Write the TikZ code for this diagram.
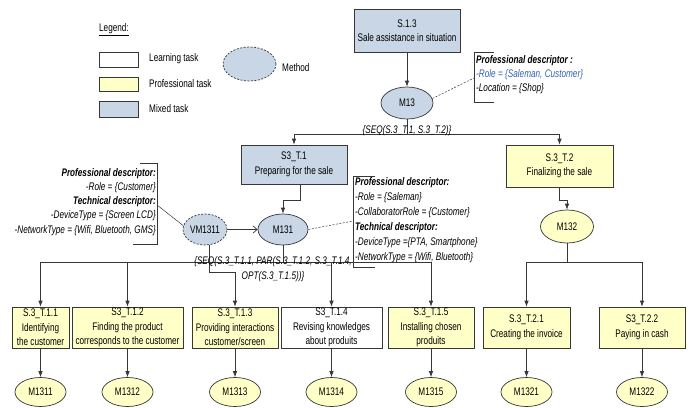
\documentclass[tikz,border=0pt]{standalone}
\usepackage{fontspec}
\setmainfont{Liberation Sans}[FakeStretch=0.745]
\usetikzlibrary{arrows.meta,shapes.geometric,calc}
\definecolor{mixblue}{RGB}{200,214,230}
\definecolor{proyel}{RGB}{255,255,200}
\definecolor{edgec}{RGB}{55,55,55}
\definecolor{roleblue}{RGB}{50,100,175}
\begin{document}
\begin{tikzpicture}[x=1pt,y=-1pt,
  font=\fontsize{11}{14.5}\selectfont,
  box/.style={draw=edgec, line width=0.7pt, rectangle, align=center, inner sep=0pt, fill=white},
  mixbox/.style={box, fill=mixblue},
  probox/.style={box, fill=proyel},
  meth/.style={draw=edgec, line width=0.7pt, ellipse, inner sep=0pt, minimum width=51pt, minimum height=29pt},
  dsh/.style={dash pattern=on 2pt off 1.5pt},
  arr/.style={draw=edgec, line width=0.7pt, -{Latex[length=6pt,width=4.5pt]}},
  conn/.style={draw=edgec, line width=0.7pt},
  thinl/.style={draw=edgec, line width=0.5pt},
  lbl/.style={inner sep=0pt},
  desc/.style={inner sep=0pt, font=\itshape\fontsize{11}{14.5}\selectfont}
]
\useasboundingbox (0,0) rectangle (690,407);
\fill[white] (0,0) rectangle (690,407);

% Legend
\node[lbl] (leg) at (114,30) {\underline{Legend:}};
\node[box, minimum width=39pt, minimum height=15pt] (lb1) at (118.5,59.5) {};
\node[probox, minimum width=39pt, minimum height=14pt] (lb2) at (118.5,84) {};
\node[mixbox, minimum width=39pt, minimum height=16pt] (lb3) at (118.5,109) {};
\node[lbl, anchor=west] (ll1) at (149,59) {Learning task};
\node[lbl, anchor=west] (ll2) at (149,84) {Professional task};
\node[lbl, anchor=west] (ll3) at (149,109) {Mixed task};
\node[meth, dsh, fill=mixblue, minimum width=53pt, minimum height=34pt] (lm) at (249.5,64) {};
\node[lbl, anchor=west] (lml) at (282,68) {Method};

% Top
\node[mixbox, minimum width=106pt, minimum height=43pt] (S13) at (407,30.5) {S.1.3\\Sale assistance in situation};
\node[meth, fill=mixblue, minimum width=52pt, minimum height=32pt] (M13) at (407,103) {M13};
\draw[arr] (S13) -- (M13);
\draw[thinl] (494,52) -- (474,52) -- (474,102) -- (494,102);
\node[desc, anchor=north west, align=left, font=\itshape\fontsize{11}{14}\selectfont] (desc1) at (476,55)
  {\textbf{Professional descriptor :}\\\textcolor{roleblue}{-Role = \{Saleman, Customer\}}\\-Location = \{Shop\}};
\coordinate (d1) at (474,78);
\draw[thinl, dsh] (M13.10) -- (d1);

\node[mixbox, minimum width=106pt, minimum height=39pt] (S3T1) at (294,164.5) {S3\_T.1\\Preparing for the sale};
\node[probox, minimum width=107pt, minimum height=42pt] (S3T2) at (559.5,166) {S.3\_T.2\\Finalizing the sale};
\coordinate (b1) at (407,134);
\draw[conn] (M13) -- (b1);
\draw[arr] (b1) -| (S3T1);
\draw[arr] (b1) -| (S3T2);
\node[desc] (seq1) at (407,131) {\{SEQ(S.3\_T.1, S.3\_T.2)\}};

% Methods level 2
\node[meth, fill=mixblue, minimum width=50pt, minimum height=31pt] (M131) at (283,229.5) {M131};
\node[meth, dsh, fill=mixblue, minimum width=44pt, minimum height=31pt] (VM1311) at (205,229.5) {VM1311};
\node[meth, fill=proyel, minimum width=53pt, minimum height=33pt] (M132) at (567,226.5) {M132};
\draw[arr] ($(S3T1.south)+(6,0)$) -- ++(0,16) -| (M131.north);
\draw[arr] (S3T2.south) -- ++(0,13) -| (M132.north);
\draw[conn, -{Straight Barb[length=4pt,width=7pt]}] (VM1311) -- (M131);

% Left descriptor
\draw[thinl] (140,163) -- (157,163) -- (157,244) -- (133,244);
\node[desc, anchor=north east, align=right, font=\itshape\fontsize{11}{14.25}\selectfont] (desc2) at (156,168)
  {\textbf{Professional descriptor:}\\-Role = \{Customer\}\\\textbf{Technical descriptor:}\\-DeviceType = \{Screen LCD\}\\-NetworkType = \{Wifi, Bluetooth, GMS\}};
\coordinate (d2) at (157,205);
\draw[thinl] (d2) -- (VM1311.170);

% Right descriptor
\draw[thinl] (375,176) -- (353,176) -- (353,267) -- (375,267);
\node[desc, anchor=north west, align=left, font=\itshape\fontsize{11}{15}\selectfont] (desc3) at (355,177)
  {\textbf{Professional descriptor:}\\-Role = \{Saleman\}\\-CollaboratorRole = \{Customer\}\\\textbf{Technical descriptor:}\\-DeviceType =\{PTA, Smartphone\}\\-NetworkType = \{Wifi, Bluetooth\}};
\coordinate (d3) at (353,221);
\draw[thinl, dsh] (M131.east) -- (d3);

% Row of tasks
\node[probox, minimum width=57pt, minimum height=41pt] (T11) at (40.5,327.5) {S.3\_T.1.1\\Identifying\\the customer};
\node[probox, minimum width=111pt, minimum height=41pt] (T12) at (127.5,327.5) {S3\_T.1.2\\Finding the product\\corresponds to the customer};
\node[probox, minimum width=86pt, minimum height=41pt] (T13) at (235,327.5) {S.3\_T.1.3\\Providing interactions\\customer/screen};
\node[box, minimum width=101pt, minimum height=41pt] (T14) at (331.5,327.5) {S3\_T.1.4\\Revising knowledges\\about produits};
\node[probox, minimum width=86pt, minimum height=41pt] (T15) at (431,327.5) {S.3\_T.1.5\\Installing chosen\\produits};
\node[probox, minimum width=87pt, minimum height=41pt] (T21) at (526.5,327.5) {S.3\_T.2.1\\Creating the invoice};
\node[probox, minimum width=86pt, minimum height=41pt] (T22) at (642,327.5) {S3\_T.2.2\\Paying in cash};

% Bus from M131
\coordinate (b2) at (283,262);
\draw[conn] (M131) -- (b2);
\draw[arr] (b2) -| (T11);
\draw[arr] (b2) -| (T12);
\draw[arr] (b2) -| (T14);
\draw[arr] (b2) -| (T15);
\draw[arr] ($(VM1311.south)+(4,0)$) -- ++(0,27) -| (T13);
\node[desc, align=center] (seq2) at (273,269) {\{SEQ(S.3\_T.1.1, PAR(S.3\_T.1.2, S.3\_T.1.4,\\OPT(S.3\_T.1.5))\}};

% Bus from M132
\coordinate (b3) at (567,262);
\draw[conn] (M132) -- (b3);
\draw[arr] (b3) -| (T21);
\draw[arr] (b3) -| (T22);

% Bottom methods
\node[meth, fill=proyel] (M1311) at (40.5,392) {M1311};
\node[meth, fill=proyel] (M1312) at (127.5,392) {M1312};
\node[meth, fill=proyel] (M1313) at (235,392) {M1313};
\node[meth, fill=proyel] (M1314) at (331.5,392) {M1314};
\node[meth, fill=proyel] (M1315) at (431,392) {M1315};
\node[meth, fill=proyel] (M1321) at (526.5,392) {M1321};
\node[meth, fill=proyel] (M1322) at (642,392) {M1322};
\foreach \a/\b in {T11/M1311,T12/M1312,T13/M1313,T14/M1314,T15/M1315,T21/M1321,T22/M1322}
  \draw[arr] (\a) -- (\b);
\end{tikzpicture}
\end{document}
